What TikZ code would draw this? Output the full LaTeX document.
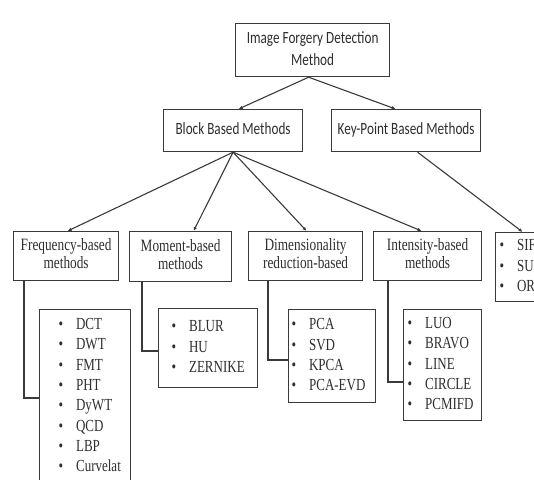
\documentclass[tikz,border=0pt]{standalone}
\usepackage{fontspec}
\setmainfont{Liberation Serif}
\newfontfamily\carlito{Carlito}
\usetikzlibrary{arrows.meta,calc}
\definecolor{linegray}{HTML}{3A3A3A}
\definecolor{textgray}{HTML}{2E2E2E}
\newcommand{\tallbox}[1]{\scalebox{1}[1.3]{#1}}
\newcommand{\boxlines}[1]{\tallbox{\begin{tabular}{@{}c@{}}#1\end{tabular}}}
\newcommand{\bulletlist}[2]{\tallbox{\begin{tabular}{@{\hspace{#1}}l@{}}#2\end{tabular}}}
\newcommand{\bitem}[1]{\makebox[17.5pt][l]{\textbullet}#1}

\begin{document}
\begin{tikzpicture}[x=1pt,y=-1pt,
  topbox/.style={draw=linegray,line width=1.2pt,inner sep=0pt,anchor=north west,text=textgray,font=\carlito\fontsize{13.2}{16.9}\selectfont},
  catbox/.style={draw=linegray,line width=1.2pt,inner sep=0pt,anchor=north west,text=textgray,font=\fontsize{13.3}{13.8}\selectfont},
  listbox/.style={draw=linegray,line width=1.2pt,inner sep=0pt,anchor=north west,align=left,text=textgray,font=\fontsize{13}{15.6}\selectfont},
  link/.style={draw=linegray,line width=1.1pt,-{Latex[length=4pt,width=3.5pt]}},
  elbow/.style={draw=linegray,line width=1.1pt}]
\useasboundingbox (0,0) rectangle (534,479);
\clip (0,0) rectangle (534,479);

\node[topbox,minimum width=154pt,minimum height=53pt] (ifdm) at (235,23) {\boxlines{Image Forgery Detection\\Method}};
\node[topbox,minimum width=139pt,minimum height=42pt] (block) at (163,109) {\boxlines{Block Based Methods}};
\node[topbox,minimum width=149pt,minimum height=42pt] (keypt) at (331,109) {\boxlines{Key-Point Based Methods}};

\node[catbox,minimum width=105pt,minimum height=49pt] (freq) at (13,231) {\boxlines{Frequency-based\\methods}};
\node[catbox,minimum width=102pt,minimum height=50pt] (moment) at (129,231) {\boxlines{Moment-based\\methods}};
\node[catbox,minimum width=114pt,minimum height=49pt] (dimred) at (248,231) {\boxlines{Dimensionality\\reduction-based}};
\node[catbox,minimum width=108pt,minimum height=49pt] (intens) at (373,231) {\boxlines{Intensity-based\\methods}};
\node[listbox,text width=100pt,minimum height=69pt] (kplist) at (495,232) {\bulletlist{4pt}{\bitem{SIFT}\\\bitem{SURF}\\\bitem{ORB}}};

\node[listbox,text width=91pt,minimum height=174pt] (freqlist) at (39,309) {\bulletlist{19pt}{\bitem{DCT}\\\bitem{DWT}\\\bitem{FMT}\\\bitem{PHT}\\\bitem{DyWT}\\\bitem{QCD}\\\bitem{LBP}\\\bitem{Curvelat}}};
\node[listbox,text width=99pt,minimum height=79pt] (momlist) at (158,308) {\bulletlist{13pt}{\bitem{BLUR}\\\bitem{HU}\\\bitem{ZERNIKE}}};
\node[listbox,text width=87pt,minimum height=93pt] (dimlist) at (288,309) {\bulletlist{3pt}{\bitem{PCA}\\\bitem{SVD}\\\bitem{KPCA}\\\bitem{PCA-EVD}}};
\node[listbox,text width=78pt,minimum height=111pt] (intlist) at (403,309) {\bulletlist{4pt}{\bitem{LUO}\\\bitem{BRAVO}\\\bitem{LINE}\\\bitem{CIRCLE}\\\bitem{PCMIFD}}};

\draw[link] ([xshift=-4pt]ifdm.south) -- ([xshift=5.5pt]block.north);
\draw[link] ([xshift=-4pt]ifdm.south) -- ([xshift=-10.5pt]keypt.north);
\draw[link] (block.south) -- ([xshift=1.5pt]freq.north);
\draw[link] (block.south) -- ([xshift=13pt]moment.north);
\draw[link] (block.south) -- ([xshift=1pt]dimred.north);
\draw[link] (block.south) -- ([xshift=-6pt]intens.north);
\draw[link] ([xshift=11.5pt]keypt.south) -- ([xshift=-23pt]kplist.north);

\draw[elbow] ($(freq.south west)+(11,0)$) |- ($(freqlist.north west)+(0,89)$);
\draw[elbow] ($(moment.south west)+(13,0)$) |- ($(momlist.north west)+(0,43)$);
\draw[elbow] ($(dimred.south west)+(20,0)$) |- ($(dimlist.north west)+(0,51)$);
\draw[elbow] ($(intens.south west)+(15,0)$) |- ($(intlist.north west)+(0,73)$);
\end{tikzpicture}
\end{document}
